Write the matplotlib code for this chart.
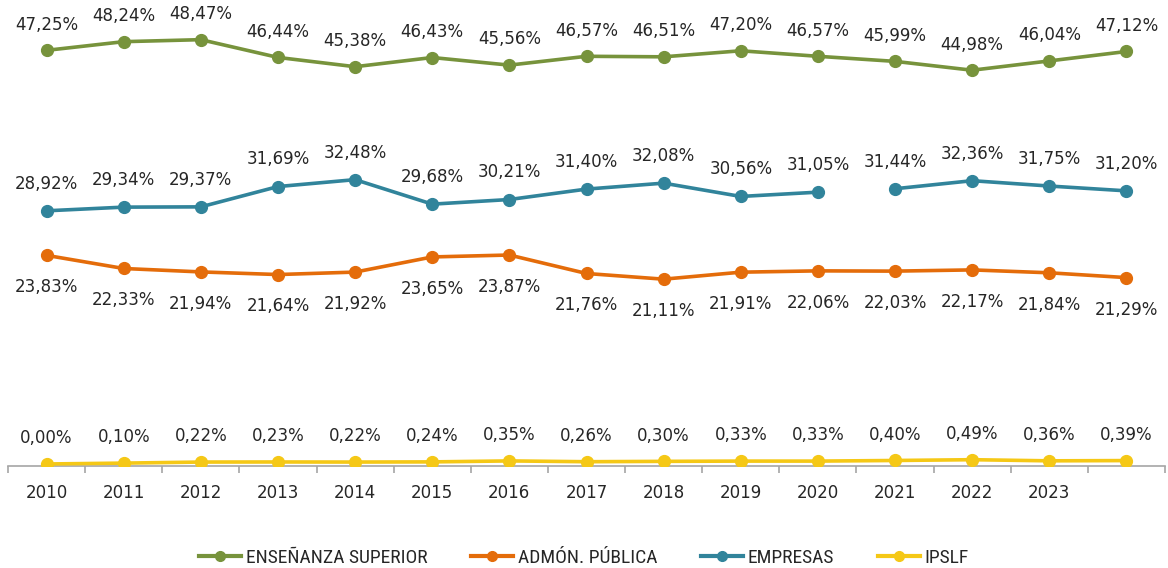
import matplotlib
matplotlib.use("Agg")
import matplotlib.pyplot as plt
from matplotlib.lines import Line2D
from matplotlib import font_manager
import numpy as np

# ---- data ----
year_labels = ["2010", "2011", "2012", "2013", "2014", "2015", "2016", "2017",
               "2018", "2019", "2020", "2021", "2022", "2023", ""]
ensenanza = [47.25, 48.24, 48.47, 46.44, 45.38, 46.43, 45.56, 46.57, 46.51, 47.20,
             46.57, 45.99, 44.98, 46.04, 47.12]
admon = [23.83, 22.33, 21.94, 21.64, 21.92, 23.65, 23.87, 21.76, 21.11, 21.91,
         22.06, 22.03, 22.17, 21.84, 21.29]
empresas = [28.92, 29.34, 29.37, 31.69, 32.48, 29.68, 30.21, 31.40, 32.08, 30.56,
            31.05, 31.44, 32.36, 31.75, 31.20]
ipslf = [0.00, 0.10, 0.22, 0.23, 0.22, 0.24, 0.35, 0.26, 0.30, 0.33,
         0.33, 0.40, 0.49, 0.36, 0.39]
empresas_break = 11  # line is not drawn between index 10 and 11

series_names = ["ENSEÑANZA SUPERIOR", "ADMÓN. PÚBLICA", "EMPRESAS", "IPSLF"]
colors = ["#77933C", "#E46C0A", "#31849B", "#F5C816"]

# ---- fonts ----
available = {f.name for f in font_manager.fontManager.ttflist}
legend_family = "DejaVu Sans"
for cand in ["Liberation Sans Narrow", "DejaVu Sans Condensed", "Roboto Condensed",
             "Open Sans Condensed"]:
    if cand in available:
        legend_family = cand
        break
plt.rcParams["font.family"] = ["DejaVu Sans"]

fig = plt.figure(figsize=(11.68, 5.68), dpi=100)
ax = fig.add_axes([8 / 1168, 102 / 568, 1157 / 1168, 466 / 568])

x = np.arange(len(year_labels))
lw = 2.6
ms = 8.5
text_color = "#262626"


def fmt(v):
    return f"{v:.2f}".replace(".", ",") + "%"


def draw(vals, color, offset, segments=None):
    vals = np.asarray(vals)
    if segments is None:
        segments = [(0, len(vals))]
    for a, b in segments:
        ax.plot(x[a:b], vals[a:b], color=color, lw=lw, solid_capstyle="round",
                zorder=3)
    ax.plot(x, vals, linestyle="none", marker="o", ms=ms, color=color, zorder=4)
    for xi, v in zip(x, vals):
        ax.annotate(fmt(v), (xi, v), xytext=(0, offset), textcoords="offset points",
                    ha="center", va="center", fontsize=12, color=text_color)


draw(ensenanza, colors[0], 18.5)
draw(admon, colors[1], -23)
draw(empresas, colors[2], 19.5,
     segments=[(0, empresas_break), (empresas_break, len(empresas))])
draw(ipslf, colors[3], 18.5)

ax.set_xlim(-0.5, len(year_labels) - 0.5)
ax.set_ylim(-0.23, 53)

for s in ["top", "right", "left"]:
    ax.spines[s].set_visible(False)
ax.spines["bottom"].set_color("#A6A6A6")
ax.spines["bottom"].set_linewidth(1.2)
ax.set_yticks([])

ax.set_xticks(np.arange(len(year_labels) + 1) - 0.5)
ax.set_xticklabels([])
ax.tick_params(axis="x", which="major", length=5, width=1.2, color="#A6A6A6",
               direction="out")
ax.set_xticks(x, minor=True)
ax.set_xticklabels(year_labels, minor=True, fontsize=12, color=text_color)
ax.tick_params(axis="x", which="minor", length=0, pad=13)

handles = [Line2D([0], [0], color=c, lw=3, marker="o", ms=7) for c in colors]
fig.legend(handles, series_names, loc="center", bbox_to_anchor=(0.5, 10 / 568),
           ncol=4, frameon=False, handlelength=2.15, columnspacing=2.25,
           handletextpad=0.25, labelcolor=text_color,
           prop={"family": legend_family, "size": 14})

fig.savefig("out.png", dpi=100)
